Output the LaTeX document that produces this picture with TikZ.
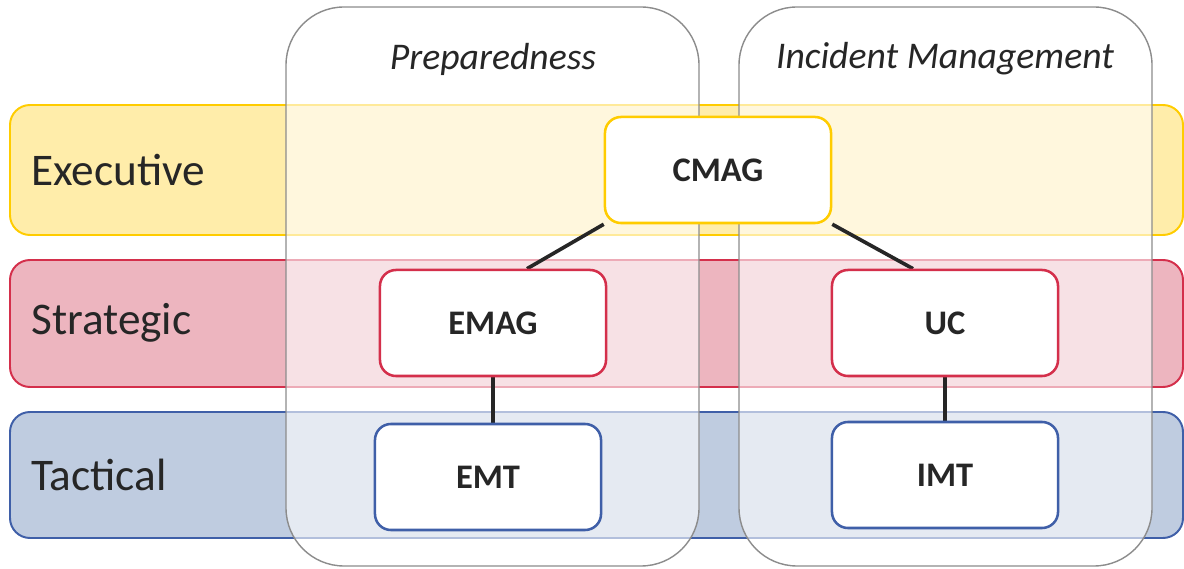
\documentclass[tikz,border=0pt]{standalone}
\usepackage{fontspec}
\setmainfont{Carlito}
\usetikzlibrary{calc}
\definecolor{execfill}{HTML}{FFEDAA}
\definecolor{execline}{HTML}{FFCC00}
\definecolor{stratfill}{HTML}{EDB5BF}
\definecolor{stratline}{HTML}{D42F4B}
\definecolor{tactfill}{HTML}{BFCCE0}
\definecolor{tactline}{HTML}{3F5FA8}
\definecolor{colgray}{HTML}{8C8C8C}
\definecolor{textdark}{HTML}{262626}
\pgfdeclarelayer{back}
\pgfdeclarelayer{mid}
\pgfdeclarelayer{links}
\pgfsetlayers{back,mid,links,main}
\tikzset{
  band/.style={rounded corners=0.5cm, line width=1.4pt},
  column/.style={rounded corners=1.45cm, draw=colgray, line width=1pt, fill=white, fill opacity=0.6},
  unit/.style={draw, fill=white, rounded corners=0.4cm, line width=1.8pt, minimum width=5.65cm,
    minimum height=2.65cm, text=textdark, font=\bfseries\fontsize{24.5}{28}\selectfont},
  level/.style={anchor=west, inner sep=0pt, text=textdark, font=\fontsize{32.2}{38}\selectfont},
  phase/.style={text=textdark, font=\itshape\fontsize{26.8}{30}\selectfont},
  link/.style={line width=2.6pt, draw=textdark}
}

\begin{document}
\begin{tikzpicture}[x=0.025cm, y=-0.025cm]
\useasboundingbox (0,0) rectangle (1184,569);

% levels
\begin{pgfonlayer}{back}
\draw[band, fill=execfill, draw=execline] (10,105) rectangle (1183,235);
\draw[band, fill=stratfill, draw=stratline] (10,260) rectangle (1183,387);
\draw[band, fill=tactfill, draw=tactline] (10,412) rectangle (1183,538);
\end{pgfonlayer}
\node[level] (exec) at (31,170) {Executive};
\node[level] (strat) at (31,323) {Strategic};
\node[level] (tact) at (31,475) {Tactical};

% phases
\begin{pgfonlayer}{mid}
\draw[column] (286,7) rectangle (699,566);
\draw[column] (739,7) rectangle (1152,566);
\end{pgfonlayer}
\node[phase] (prep) at (493,59) {Preparedness};
\node[phase] (incid) at (945,59) {Incident Management};

\node[unit, draw=execline] (cmag) at (718,170) {CMAG};
\node[unit, draw=stratline] (emag) at (493,323) {EMAG};
\node[unit, draw=stratline] (uc) at (945,323) {UC};
\node[unit, draw=tactline] (emt) at (488,477) {EMT};
\node[unit, draw=tactline] (imt) at (945,475) {IMT};

\begin{pgfonlayer}{links}
\draw[link] (cmag.south west) -- ([xshift=0.85cm]emag.north);
\draw[link] (cmag.south east) -- ([xshift=-0.8cm]uc.north);
\draw[link] (emag.south) -- (emag.south |- emt.north);
\draw[link] (uc.south) -- (imt.north);
\end{pgfonlayer}
\end{tikzpicture}
\end{document}
